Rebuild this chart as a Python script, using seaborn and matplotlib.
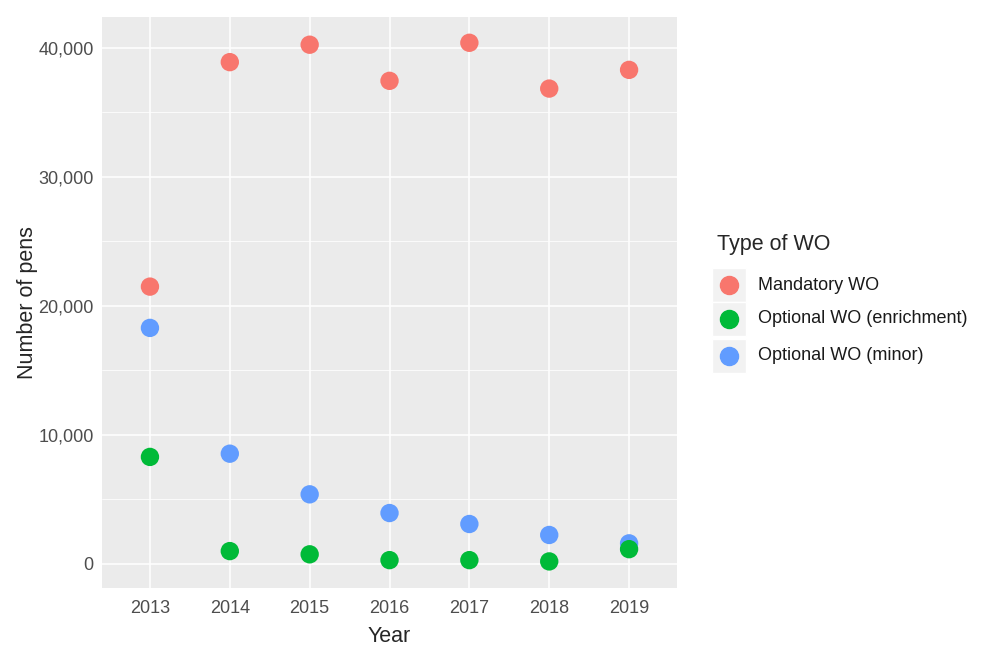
import pandas as pd
import matplotlib.pyplot as plt
import seaborn as sns
from matplotlib.ticker import FuncFormatter, MultipleLocator
from matplotlib.lines import Line2D
from matplotlib.patches import Rectangle

# Data

years = [2013, 2014, 2015, 2016, 2017, 2018, 2019]

mandatory = [21500, 38900, 40250, 37450, 40400, 36850, 38300]
enrichment = [8300, 1000, 750, 300, 300, 200, 1150]
minor = [18300, 8550, 5400, 3950, 3100, 2250, 1600]

types = [
    "Mandatory WO",
    "Optional WO (enrichment)",
    "Optional WO (minor)"
]

colors = ["#F8766D", "#00BA38", "#619CFF"]

# enrichment points sit on top of minor ones, so they go last
df = pd.DataFrame({
    "Year": years * 3,
    "Pens": mandatory + minor + enrichment,
    "Type": [types[0]] * 7 + [types[2]] * 7 + [types[1]] * 7
})

# Style

sns.set_style("darkgrid", {
    "axes.facecolor": "#EBEBEB",
    "grid.color": "white"
})
plt.rcParams["font.family"] = ["Liberation Sans", "DejaVu Sans"]

fig = plt.figure(figsize=(9.84, 6.48), dpi=100)
ax = fig.add_axes([0.1037, 0.0926, 0.5843, 0.8812])

sns.scatterplot(
    data=df,
    x="Year",
    y="Pens",
    hue="Type",
    hue_order=types,
    palette=colors,
    s=175,
    linewidth=0,
    legend=False,
    ax=ax,
    zorder=3
)

ax.set_xlim(2012.4, 2019.6)
ax.set_ylim(-1860, 42400)
ax.set_xticks(years)
ax.yaxis.set_major_locator(MultipleLocator(10000))
ax.yaxis.set_minor_locator(MultipleLocator(5000))
ax.xaxis.set_minor_locator(MultipleLocator(100))
ax.yaxis.set_major_formatter(FuncFormatter(lambda v, p: f"{int(v):,}"))

ax.grid(which="major", color="white", linewidth=1.1)
ax.grid(which="minor", axis="y", color="white", linewidth=0.55)
for s in ax.spines.values():
    s.set_visible(False)

ax.tick_params(
    axis="both",
    which="major",
    length=3,
    width=0.8,
    color="#333333",
    labelsize=13,
    labelcolor="#4D4D4D",
    pad=3
)
ax.tick_params(axis="x", pad=6)
ax.tick_params(which="minor", length=0)

ax.set_xlabel("Year", fontsize=15.5, labelpad=6)
ax.set_ylabel("Number of pens", fontsize=15.5, labelpad=0)

# Legend

fig.text(0.729, 0.622, "Type of WO", fontsize=15.5, va="center")
key_y = [0.560, 0.508, 0.451]
for t, c, yk in zip(types, colors, key_y):
    fig.patches.append(Rectangle(
        (0.7235, yk - 0.026), 0.035, 0.052,
        transform=fig.transFigure,
        facecolor="#F2F2F2",
        edgecolor="white",
        linewidth=1
    ))
    fig.lines.append(Line2D(
        [0.741], [yk],
        transform=fig.transFigure,
        marker="o",
        markersize=13,
        color=c,
        linestyle=""
    ))
    fig.text(0.770, yk, t, fontsize=13, va="center", color="#1A1A1A")

plt.savefig("out.png", dpi=100)
